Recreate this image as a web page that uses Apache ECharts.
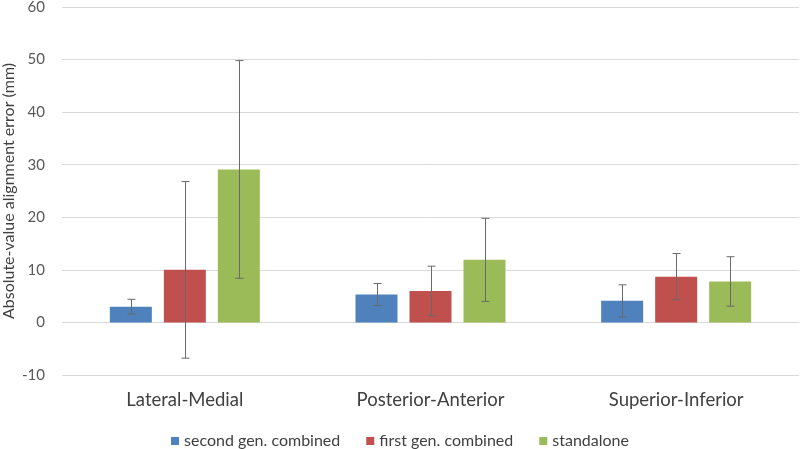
<!DOCTYPE html>
<html><head><meta charset="utf-8">
<script src="https://cdn.jsdelivr.net/npm/echarts@6/dist/echarts.min.js"></script>
<style>html,body{margin:0;padding:0;background:#fff}#c{width:800px;height:449px}</style>
</head><body><div id="c"></div>
<script>
var categories = ['Lateral-Medial', 'Posterior-Anterior', 'Superior-Inferior'];
var seriesNames = ['second gen. combined', 'first gen. combined', 'standalone'];
var secondGen = [3.0, 5.3, 4.1];
var firstGen = [10.0, 6.0, 8.7];
var standalone = [29.1, 11.9, 7.8];
var secondGenErr = [1.4, 2.1, 3.05];
var firstGenErr = [16.8, 4.7, 4.4];
var standaloneErr = [20.7, 7.9, 4.7];
var yTicks = [-10, 0, 10, 20, 30, 40, 50, 60];

var colors = ['#4F81BD', '#C0504D', '#9BBB59'];
var FONT = 'Lato';
var values = [secondGen, firstGen, standalone];
var errs = [secondGenErr, firstGenErr, standaloneErr];
var BAR_W = 42, GAP = 12;

var chart = echarts.init(document.getElementById('c'));
var series = [];
values.forEach(function (v, i) {
  series.push({
    name: seriesNames[i], type: 'bar', data: v,
    barWidth: BAR_W, barGap: (GAP / BAR_W * 100) + '%',
    itemStyle: { color: colors[i] }
  });
});
values.forEach(function (v, i) {
  var data = v.map(function (val, k) { return [k, val - errs[i][k], val + errs[i][k]]; });
  series.push({
    type: 'custom', silent: true, z: 10,
    data: data,
    renderItem: function (params, api) {
      var off = (i - 1) * (BAR_W + GAP);
      var lo = api.coord([api.value(0), api.value(1)]);
      var hi = api.coord([api.value(0), api.value(2)]);
      var x = Math.round(lo[0] + off) + 0.5;
      var hw = 4;
      var st = { stroke: '#6a6a6a', lineWidth: 1 };
      return { type: 'group', children: [
        { type: 'line', shape: { x1: x, y1: hi[1], x2: x, y2: lo[1] }, style: st },
        { type: 'line', shape: { x1: x - hw, y1: hi[1], x2: x + hw, y2: hi[1] }, style: st },
        { type: 'line', shape: { x1: x - hw, y1: lo[1], x2: x + hw, y2: lo[1] }, style: st }
      ]};
    }
  });
});

chart.setOption({
  animation: false,
  textStyle: { fontFamily: FONT },
  grid: { left: 62, right: 1, top: 7, bottom: 74, containLabel: false, outerBoundsMode: 'none' },
  legend: {
    data: seriesNames, top: 428, left: 'center',
    itemWidth: 8, itemHeight: 8, itemGap: 26, icon: 'rect',
    textStyle: { fontFamily: FONT, fontSize: 16, color: '#404040' }
  },
  xAxis: {
    type: 'category', data: categories,
    axisLine: { show: false }, axisTick: { show: false },
    axisLabel: { fontFamily: FONT, fontSize: 18.5, color: '#404040', margin: 16 }
  },
  yAxis: {
    type: 'value', min: yTicks[0], max: yTicks[yTicks.length - 1], interval: 10,
    name: 'Absolute-value alignment error (mm)', nameLocation: 'middle', nameGap: 45,
    nameMoveOverlap: false,
    nameTextStyle: { fontFamily: FONT, fontSize: 16, color: '#404040' },
    axisLabel: { fontFamily: FONT, fontSize: 15, color: '#595959', margin: 17 },
    splitLine: { lineStyle: { color: '#D9D9D9', width: 1 } },
    axisLine: { show: false }, axisTick: { show: false }
  },
  series: series
});
</script></body></html>
